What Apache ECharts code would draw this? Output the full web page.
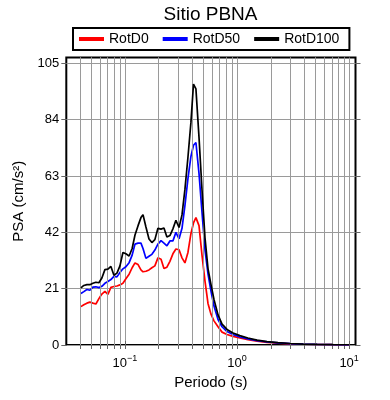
<!DOCTYPE html>
<html>
<head>
<meta charset="utf-8">
<script src="https://cdn.jsdelivr.net/npm/echarts@6/dist/echarts.min.js"></script>
<style>html,body{margin:0;padding:0;background:#fff}#c{width:390px;height:400px}</style>
</head>
<body>
<div id="c"></div>
<script>
const periods = [0.0405,0.043,0.0458,0.0487,0.0518,0.0551,0.0586,0.0623,0.0663,0.0705,0.075,0.0798,0.0849,0.0903,0.096,0.102,0.109,0.116,0.123,0.131,0.139,0.145,0.154,0.164,0.174,0.185,0.197,0.21,0.223,0.237,0.252,0.268,0.285,0.304,0.323,0.343,0.365,0.388,0.409,0.43,0.458,0.487,0.518,0.551,0.586,0.623,0.677,0.735,0.814,0.921,1.06,1.25,1.51,1.85,2.32,2.97,3.88,5.18,7.2,10];
const rotD0 = [14.3,15.0,15.6,16.0,15.6,15.3,17.3,19.0,20.0,18.9,21.5,21.8,22.0,22.4,23.0,24.7,26.4,28.8,30.6,30.0,28.0,27.3,27.5,28.0,28.8,29.5,32.5,32.0,28.5,29.0,31.2,34.0,35.8,35.5,32.5,30.6,34.5,41.5,45.5,47.5,44.5,33.5,23.8,15.5,11.5,9.0,6.8,4.8,3.9,3.2,2.6,2.0,1.4,1.0,0.7,0.45,0.28,0.18,0.11,0.07];
const rotD50 = [19.2,19.9,20.7,20.4,21.6,21.7,21.4,21.9,23.0,23.7,24.4,25.6,25.4,27.0,28.4,29.2,30.7,33.5,37.6,38.0,38.0,36.0,32.3,33.1,33.8,35.4,37.6,38.9,38.0,37.0,38.8,38.8,42.0,39.6,43.5,52.0,62.0,70.3,74.5,75.5,64.0,49.5,35.5,26.5,20.0,14.5,9.5,6.8,5.0,3.9,3.0,2.3,1.65,1.15,0.8,0.52,0.33,0.2,0.13,0.08];
const rotD100 = [21.3,22.2,22.5,22.5,23.0,23.4,23.2,25.0,28.1,28.3,29.3,26.0,26.8,29.5,34.5,34.0,33.2,36.0,41.0,44.5,47.5,48.6,44.0,39.5,38.2,39.3,43.5,43.2,43.6,40.3,40.8,43.3,46.5,43.8,48.5,58.0,70.0,83.0,97.3,95.5,77.5,58.0,40.0,28.5,22.5,17.0,11.2,7.8,5.8,4.5,3.5,2.6,1.8,1.25,0.85,0.56,0.35,0.22,0.14,0.1];
const seriesNames = ['RotD0','RotD50','RotD100'];
const seriesColors = ['#ff0000','#0000ff','#000000'];
const yTicks = [0,21,42,63,84,105];
const xDecades = [0.1,1,10];

const FONT = 'Liberation Sans, Arial, Helvetica, sans-serif';
const xMin = 0.03, xMax = 11.4, yMin = 0, yMax = 107.2;
const yStep = yTicks[1] - yTicks[0];

// minor log grid positions (2..9 x 10^k) within the axis range
const minorGrid = [];
[0.01, 0.1, 1].forEach(d => { for (let k = 2; k <= 9; k++) { const v = +(k * d).toPrecision(3); if (v > xMin && v < xMax) minorGrid.push(v); } });
const allXTicks = minorGrid.concat(xDecades).sort((a, b) => a - b);

function xLabel(v) {
  const e = Math.log10(v), r = Math.round(e);
  if (Math.abs(e - r) > 1e-6) return '';
  return '{b|10}{s|' + (r < 0 ? '\u2212' + (-r) : String(r)) + '}';
}

const chart = echarts.init(document.getElementById('c'), null, {renderer: 'canvas'});
const lineSeries = seriesNames.map((n, i) => ({
  name: n, type: 'line', xAxisIndex: 0, yAxisIndex: 0,
  data: periods.map((p, j) => [p, [rotD0, rotD50, rotD100][i][j]]),
  showSymbol: false, symbol: 'none',
  lineStyle: {color: seriesColors[i], width: 1.7},
  itemStyle: {color: seriesColors[i]},
  z: 3 + i, animation: false
}));
lineSeries.push({
  name: '_grid', type: 'line', data: [], xAxisIndex: 0, yAxisIndex: 0, silent: true, z: 1,
  markLine: {
    silent: true, symbol: 'none', animation: false, label: {show: false},
    lineStyle: {color: '#9a9a9a', width: 1, type: 'solid'},
    emphasis: {disabled: true},
    data: minorGrid.map(v => ({xAxis: v}))
  }
});

chart.setOption({
  animation: false,
  backgroundColor: '#fff',
  title: {
    text: 'Sitio PBNA', left: 210.5, top: 5, textAlign: 'center', padding: 0,
    textStyle: {fontFamily: FONT, fontSize: 19, fontWeight: 'normal', color: '#000'}
  },
  legend: {
    data: seriesNames, left: 73, top: 28, orient: 'horizontal',
    icon: 'rect', itemWidth: 25, itemHeight: 4, itemGap: 14,
    padding: [4, 10, 4, 6], borderColor: '#000', borderWidth: 2, backgroundColor: '#fff',
    textStyle: {fontFamily: FONT, fontSize: 14, color: '#000'},
    selectedMode: false
  },
  grid: {left: 66.3, right: 34.5, top: 57.5, bottom: 55, show: true, borderColor: '#000', borderWidth: 2, backgroundColor: 'transparent'},
  xAxis: [{
    type: 'log', logBase: 10, min: xMin, max: xMax, position: 'bottom',
    name: 'Periodo (s)', nameLocation: 'middle', nameGap: 30,
    nameTextStyle: {fontFamily: FONT, fontSize: 15, color: '#000'},
    axisLine: {show: false},
    axisTick: {show: true, inside: false, length: 4, customValues: allXTicks, lineStyle: {color: '#666'}},
    splitLine: {show: true, lineStyle: {color: '#9a9a9a', width: 1}},
    axisLabel: {
      show: true, margin: 9, showMinLabel: false, showMaxLabel: false, formatter: xLabel,
      rich: {
        b: {fontFamily: FONT, fontSize: 13, color: '#000', lineHeight: 18},
        s: {fontFamily: FONT, fontSize: 9, color: '#000', lineHeight: 10, verticalAlign: 'top'}
      }
    }
  }, {
    type: 'log', logBase: 10, min: xMin, max: xMax, position: 'top',
    axisLine: {show: false}, axisLabel: {show: false}, splitLine: {show: false},
    axisTick: {show: true, inside: false, length: 4, customValues: allXTicks, lineStyle: {color: '#666'}}
  }],
  yAxis: [{
    type: 'value', min: yMin, max: yMax, interval: yStep, position: 'left',
    name: 'PSA (cm/s\u00b2)', nameLocation: 'middle', nameGap: 36,
    nameTextStyle: {fontFamily: FONT, fontSize: 15, color: '#000'},
    axisLine: {show: false},
    axisTick: {show: true, inside: false, length: 5, customValues: yTicks, lineStyle: {color: '#666'}},
    splitLine: {show: true, lineStyle: {color: '#9a9a9a', width: 1}},
    axisLabel: {margin: 7, showMaxLabel: false, fontFamily: FONT, fontSize: 13, color: '#000',
      formatter: v => (yTicks.indexOf(v) >= 0 ? String(v) : '')}
  }, {
    type: 'value', min: yMin, max: yMax, interval: yStep, position: 'right',
    axisLine: {show: false}, axisLabel: {show: false}, splitLine: {show: false},
    axisTick: {show: true, inside: false, length: 5, customValues: yTicks, lineStyle: {color: '#666'}}
  }],
  series: lineSeries
});
</script>
</body>
</html>
